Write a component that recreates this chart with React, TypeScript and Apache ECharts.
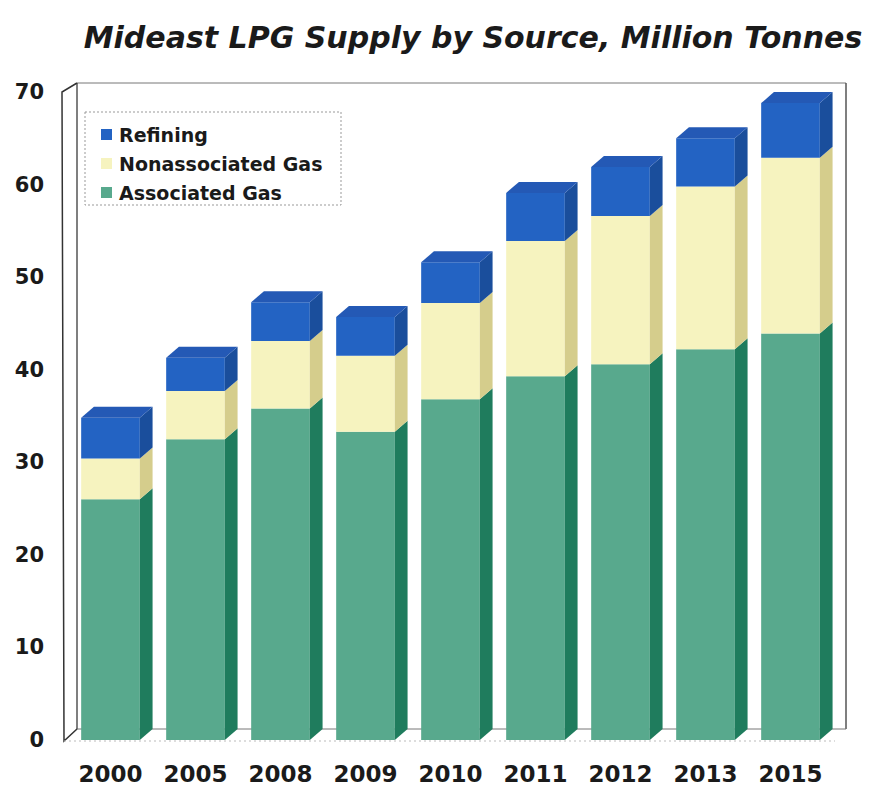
import React, { useEffect, useRef } from "react";
import * as echarts from "echarts";

const years = ["2000", "2005", "2008", "2009", "2010", "2011", "2012", "2013", "2015"];
const associatedGas = [26.0, 32.5, 35.8, 33.3, 36.8, 39.3, 40.6, 42.2, 43.9];
const nonassociatedGas = [4.4, 5.2, 7.3, 8.2, 10.4, 14.6, 16.0, 17.6, 19.0];
const refining = [4.4, 3.6, 4.2, 4.2, 4.4, 5.2, 5.3, 5.2, 5.9];
const yTicks = [0, 10, 20, 30, 40, 50, 60, 70];

const FONT = "DejaVu Sans, Verdana, sans-serif";

const seriesDefs = [
  { name: "Associated Gas", values: associatedGas, front: "#58a98d", side: "#1f7c5d", top: "#3f9a7c" },
  { name: "Nonassociated Gas", values: nonassociatedGas, front: "#f6f3bf", side: "#d5cd8c", top: "#e8e3a6" },
  { name: "Refining", values: refining, front: "#2363c3", side: "#1a4e9c", top: "#2459b5" },
];

export default function App() {
  const ref = useRef<HTMLDivElement>(null);
  useEffect(() => {
    if (!ref.current) return;
    const chart = echarts.init(ref.current, undefined, { renderer: "svg" });
    const bases = years.map(() => 0);
    const series = seriesDefs.map((def, si) => {
      const data = def.values.map((v, i) => {
        const lo = bases[i];
        const hi = lo + v;
        bases[i] = hi;
        return [i, lo, hi];
      });
      const isTop = si === seriesDefs.length - 1;
      return {
        type: "custom",
        name: def.name,
        itemStyle: { color: def.front },
        encode: { x: 0, y: [1, 2] },
        data,
        renderItem: (params: any, api: any) => {
          const ci = api.value(0);
          const lo = api.value(1);
          const hi = api.value(2);
          const p0 = api.coord([ci, lo]);
          const p1 = api.coord([ci, hi]);
          const band = api.size([1, 0])[0];
          const w = band * 0.69;
          const dx = band * 0.15;
          const dy = 11;
          const x0 = p0[0] - w / 2;
          const children: any[] = [
            {
              type: "rect",
              shape: { x: x0, y: p1[1], width: w, height: p0[1] - p1[1] },
              style: { fill: def.front },
            },
            {
              type: "polygon",
              shape: {
                points: [
                  [x0 + w, p0[1]],
                  [x0 + w + dx, p0[1] - dy],
                  [x0 + w + dx, p1[1] - dy],
                  [x0 + w, p1[1]],
                ],
              },
              style: { fill: def.side },
            },
          ];
          if (isTop) {
            children.push({
              type: "polygon",
              shape: {
                points: [
                  [x0, p1[1]],
                  [x0 + dx, p1[1] - dy],
                  [x0 + w + dx, p1[1] - dy],
                  [x0 + w, p1[1]],
                ],
              },
              style: { fill: def.top },
            });
          }
          return { type: "group", children };
        },
      };
    });

    chart.setOption({
      animation: false,
      backgroundColor: "#ffffff",
      title: {
        text: "Mideast LPG Supply by Source, Million Tonnes",
        left: 460,
        textAlign: "center",
        top: 9,
        textStyle: {
          fontFamily: FONT,
          fontSize: 30,
          fontWeight: "bold",
          fontStyle: "italic",
          color: "#1a1a1a",
        },
      },
      legend: {
        orient: "vertical",
        left: 88,
        top: 112,
        itemGap: 10,
        itemWidth: 11,
        itemHeight: 11,
        icon: "rect",
        data: ["Refining", "Nonassociated Gas", "Associated Gas"],
        textStyle: {
          fontFamily: FONT,
          fontSize: 19,
          fontWeight: "bold",
          color: "#1a1a1a",
          padding: [0, 0, 0, 2],
        },
      },
      grid: { left: 60, right: 42, top: 84, bottom: 48 },
      xAxis: {
        type: "category",
        data: years,
        axisLine: { show: false },
        axisTick: { show: false },
        axisLabel: {
          interval: 0,
          hideOverlap: false,
          margin: 22,
          fontFamily: FONT,
          fontSize: 23,
          fontWeight: "bold",
          color: "#1a1a1a",
        },
      },
      yAxis: {
        type: "value",
        min: yTicks[0],
        max: yTicks[yTicks.length - 1],
        interval: 10,
        axisLine: { show: false },
        axisTick: { show: false },
        splitLine: { show: false },
        axisLabel: {
          margin: 24,
          fontFamily: FONT,
          fontSize: 21,
          fontWeight: "bold",
          color: "#1a1a1a",
        },
      },
      graphic: [
        // back wall frame
        { type: "line", shape: { x1: 69, y1: 75, x2: 838, y2: 75 }, style: { stroke: "#777", lineWidth: 1 }, z: -1 },
        { type: "line", shape: { x1: 838, y1: 75, x2: 838, y2: 721 }, style: { stroke: "#555", lineWidth: 1.5 }, z: -1 },
        { type: "line", shape: { x1: 69, y1: 721, x2: 838, y2: 721 }, style: { stroke: "#777", lineWidth: 1 }, z: -1 },
        // left wall
        { type: "line", shape: { x1: 69, y1: 75, x2: 69, y2: 721 }, style: { stroke: "#555", lineWidth: 1.5 }, z: -1 },
        { type: "polyline", shape: { points: [[69, 75], [54, 84], [56, 733], [69, 721]] }, style: { stroke: "#333", lineWidth: 1.5, fill: "none" }, z: -1 },
        // floor front edge
        { type: "line", shape: { x1: 56, y1: 733, x2: 827, y2: 733 }, style: { stroke: "#bbb", lineWidth: 1, lineDash: [2, 3] }, z: -1 },
        // legend box
        {
          type: "rect",
          shape: { x: 77, y: 104, width: 256, height: 93 },
          style: { fill: "none", stroke: "#999", lineWidth: 1, lineDash: [2, 2] },
        },
      ],
      series,
    });
    return () => chart.dispose();
  }, []);
  return <div ref={ref} style={{ width: 867, height: 780 }} />;
}
